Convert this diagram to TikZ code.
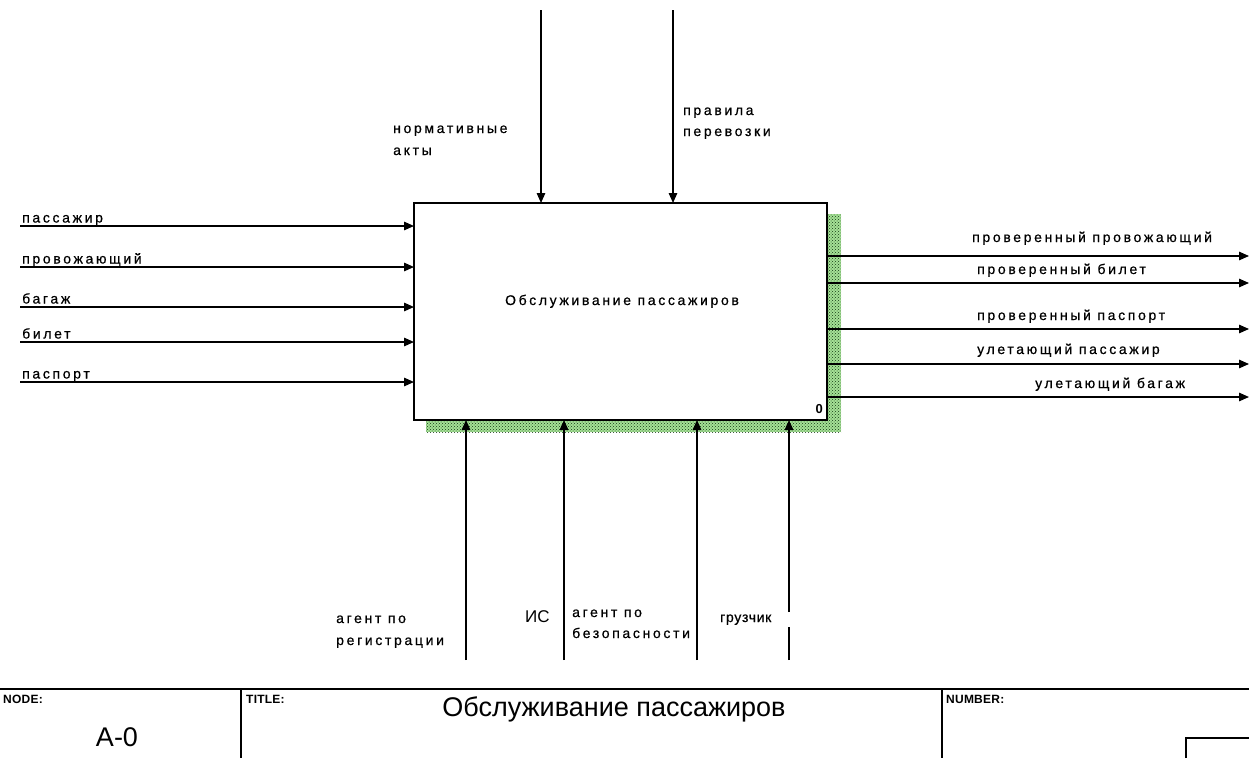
\documentclass[tikz,border=0pt]{standalone}
\usepackage{fontspec}
\setmainfont{Liberation Sans}
\newfontfamily\lblfont[LetterSpace=19,FakeBold=0.6]{Liberation Sans}
\newfontfamily\plainlbl[LetterSpace=5,FakeBold=0.6]{Liberation Sans}
\newfontfamily\hdrfont[LetterSpace=2]{Liberation Sans}
\usetikzlibrary{arrows.meta,patterns}
\begin{document}
\begin{tikzpicture}[x=1pt,y=-1pt,
  lbl/.style={font=\lblfont\fontsize{14}{20}\selectfont, inner sep=0pt, anchor=base west},
  hdr/.style={font=\hdrfont\bfseries\fontsize{12}{14}\selectfont, inner sep=0pt, anchor=base west},
  big/.style={font=\fontsize{27}{30}\selectfont, inner sep=0pt, anchor=base},
  arr/.style={line width=1.4pt, -{Triangle[length=10pt,width=8.5pt]}},
  ln/.style={line width=1.4pt},
  shadow/.style={fill={rgb,255:red,165;green,225;blue,150}},
  hatch/.style={pattern=crosshatch dots, pattern color={rgb,255:red,20;green,60;blue,20}}]
\useasboundingbox (0,0) rectangle (1249,758);
% shadow
\fill[shadow] (827,214) rectangle (841,432);
\fill[shadow] (426,420) rectangle (841,432);
\fill[hatch] (827,214) rectangle (841,432);
\fill[hatch] (426,420) rectangle (827,432);
% main box
\node[draw, line width=1.4pt, fill=white, minimum width=413pt, minimum height=217pt, anchor=north west, inner sep=0pt, outer sep=0pt] (box) at (414,203) {};
\node[lbl, anchor=base] (boxlbl) at (622,305) {Обслуживание пассажиров};
\node[lbl, anchor=base east, font=\hdrfont\bfseries\fontsize{13}{14}\selectfont] (boxnum) at (823,413) {0};
% inputs
\foreach \n/\y/\t in {i1/226/пассажир, i2/267/провожающий, i3/307/багаж, i4/342/билет, i5/382/паспорт}{
  \coordinate (\n) at (20,\y);
  \draw[arr] (\n) -- (\n -| box.west);
  \node[lbl] (\n lbl) at (22,\y-3.5) {\t};
}
% outputs
\foreach \n/\y in {o1/256, o2/283, o3/329, o4/364, o5/397}{
  \coordinate (\n) at (1249,\y);
  \draw[arr] (\n -| box.east) -- (\n);
}
\node[lbl] (o1lbl) at (972,242) {проверенный провожающий};
\node[lbl] (o2lbl) at (977,274) {проверенный билет};
\node[lbl] (o3lbl) at (977,320) {проверенный паспорт};
\node[lbl] (o4lbl) at (977,354) {улетающий пассажир};
\node[lbl] (o5lbl) at (1035,388) {улетающий багаж};
% controls
\coordinate (c1) at (541,10);
\coordinate (c2) at (673,10);
\draw[arr] (c1) -- (c1 |- box.north);
\draw[arr] (c2) -- (c2 |- box.north);
\node[lbl] (c1lbla) at (393,133) {нормативные};
\node[lbl] (c1lblb) at (393,155) {акты};
\node[lbl] (c2lbla) at (683,115) {правила};
\node[lbl] (c2lblb) at (683,136) {перевозки};
% mechanisms
\coordinate (m1) at (466,660);
\coordinate (m2) at (564,660);
\coordinate (m3) at (697,660);
\coordinate (m4) at (789,660);
\coordinate (g1) at (789,627);
\coordinate (g2) at (789,612);
\draw[arr] (m1) -- (m1 |- box.south);
\draw[arr] (m2) -- (m2 |- box.south);
\draw[arr] (m3) -- (m3 |- box.south);
\draw[ln] (m4) -- (g1);
\draw[arr] (g2) -- (g2 |- box.south);
\node[lbl] (m1lbla) at (336,623) {агент по};
\node[lbl] (m1lblb) at (336,645) {регистрации};
\node[lbl, font=\fontsize{17}{18}\selectfont] (m2lbl) at (525,622) {ИС};
\node[lbl] (m3lbla) at (572,617) {агент по};
\node[lbl] (m3lblb) at (572,638) {безопасности};
\node[lbl, font=\plainlbl\fontsize{14}{16}\selectfont] (m4lbl) at (720,622) {грузчик};
% footer
\coordinate (fl) at (0,689);
\coordinate (fr) at (1249,689);
\draw[line width=2.4pt] (fl) -- (fr);
\coordinate (v1t) at (241,689);
\coordinate (v1b) at (241,758);
\coordinate (v2t) at (942,689);
\coordinate (v2b) at (942,758);
\draw[ln] (v1t) -- (v1b);
\draw[ln] (v2t) -- (v2b);
\coordinate (sb1) at (1186,758);
\coordinate (sb2) at (1186,738);
\coordinate (sb3) at (1249,738);
\draw[ln] (sb1) -- (sb2) -- (sb3);
\node[hdr] (nodehdr) at (3,703) {NODE:};
\node[hdr] (titlehdr) at (246,703) {TITLE:};
\node[hdr] (numhdr) at (946,703) {NUMBER:};
\node[big] (title) at (614,716) {Обслуживание пассажиров};
\node[big] (nodenum) at (117,746) {A-0};
\end{tikzpicture}
\end{document}
